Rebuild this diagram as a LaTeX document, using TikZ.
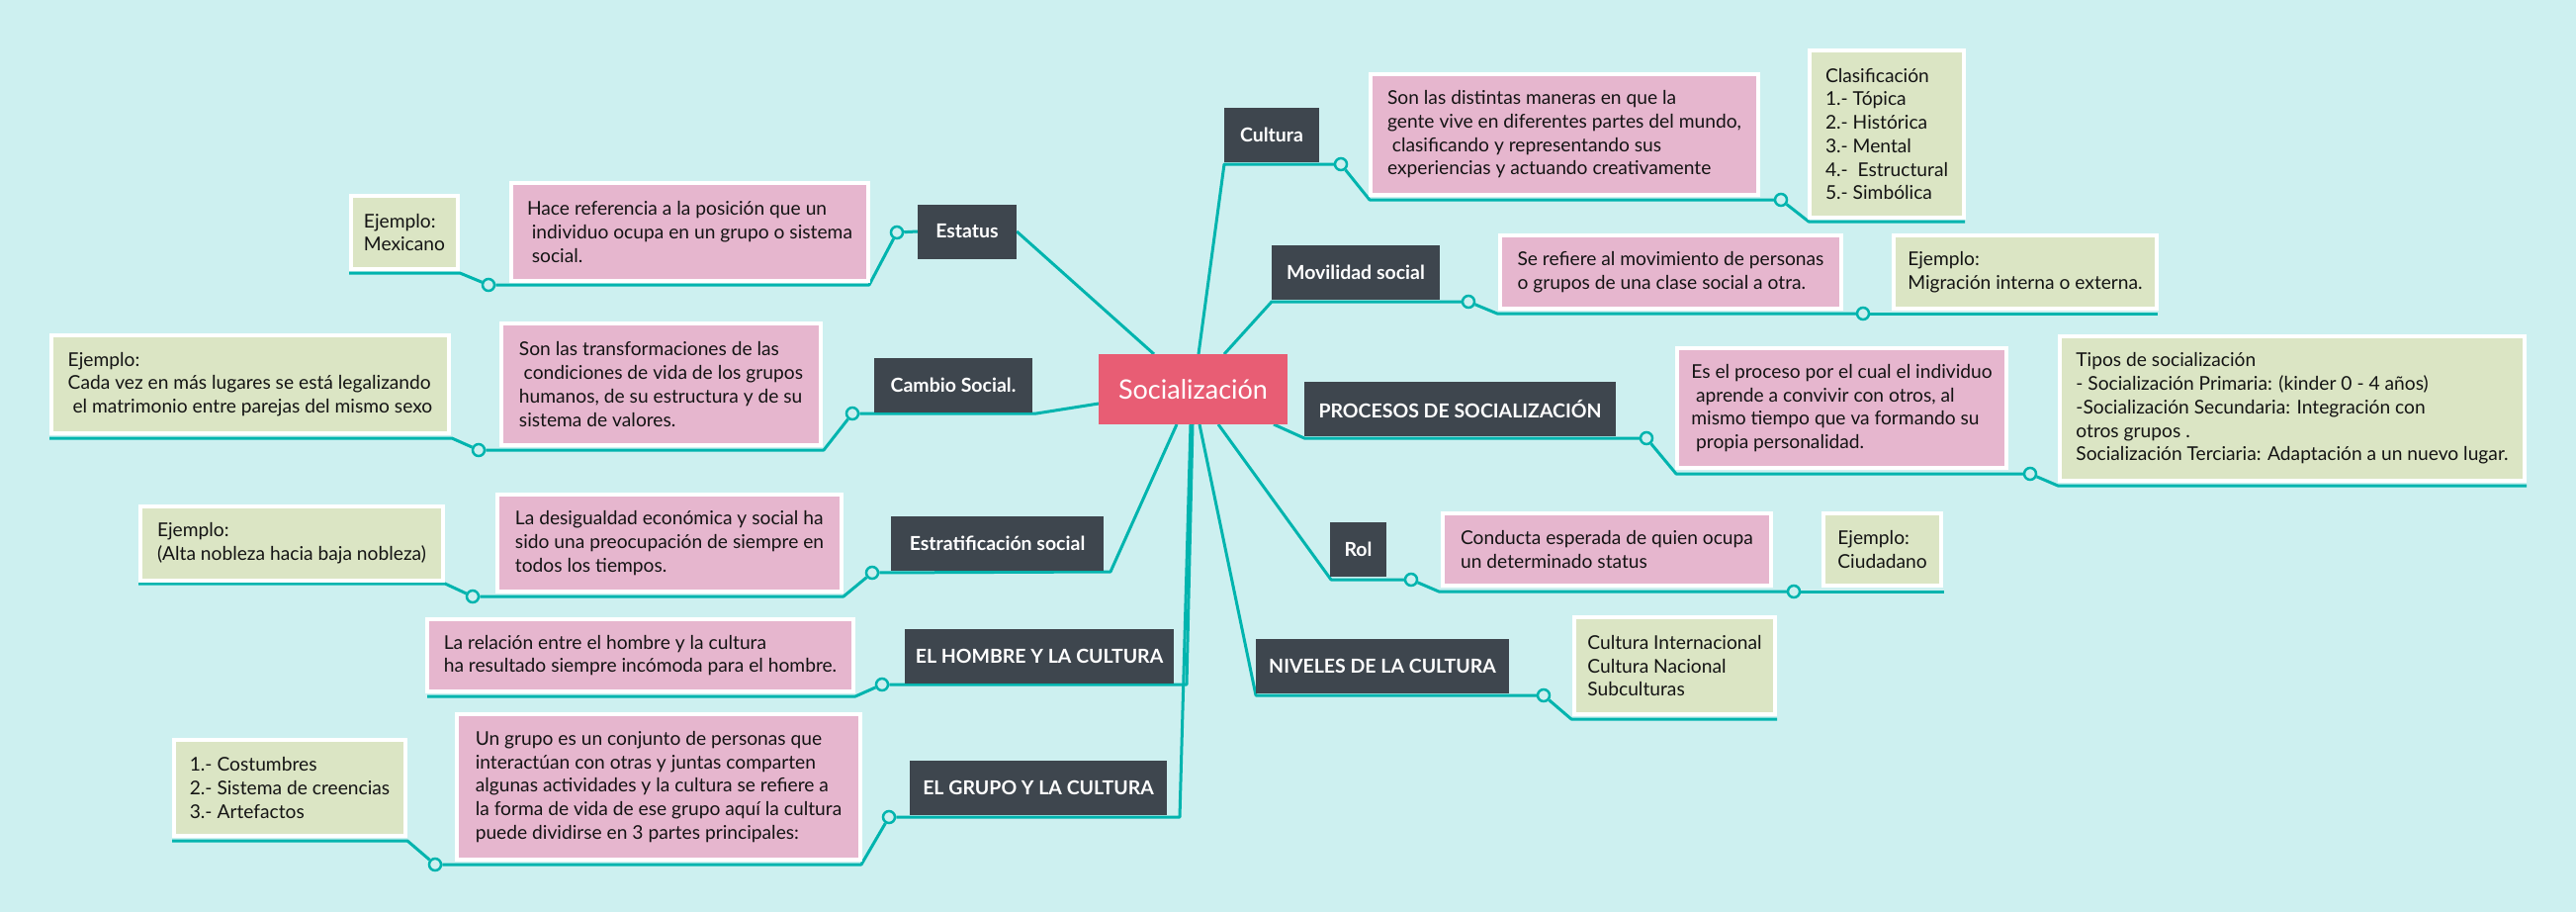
\documentclass[tikz,border=0pt]{standalone}
\usepackage{fontspec}
\setmainfont{Lato}
\usetikzlibrary{backgrounds}
\definecolor{bgc}{HTML}{CDF0F0}
\definecolor{tealc}{HTML}{00B4AE}
\definecolor{darkc}{HTML}{3E464E}
\definecolor{pinkc}{HTML}{E6B6CE}
\definecolor{greenc}{HTML}{DBE5C4}
\definecolor{redc}{HTML}{E85D74}
\definecolor{txtc}{HTML}{141414}
\newcommand{\ls}{\hspace*{0.25em}}
\begin{document}
\begin{tikzpicture}[x=1pt,y=-1pt,
  rootbox/.style={fill=redc, text=white, font=\fontsize{27}{30}\selectfont, inner sep=0pt},
  topic/.style={fill=darkc, text=white, font=\fontsize{19.5}{23}\selectfont\bfseries, minimum height=55pt, inner sep=0pt},
  pbox/.style={fill=pinkc, draw=white, line width=4pt, align=left, text=txtc, font=\fontsize{19.2}{23.7}\selectfont, inner sep=0pt},
  gbox/.style={pbox, fill=greenc},
  conn/.style={draw=tealc, line width=3pt, line join=round},
  dot/.style={circle, draw=tealc, fill=bgc, line width=2.5pt, minimum size=12pt, inner sep=0pt}]
\useasboundingbox (0,0) rectangle (2605,922);

% ---------- root ----------
\node[rootbox, minimum width=191pt, minimum height=71pt] (root) at (1206.5,393.5) {Socialización};

% ---------- main topics ----------
\node[topic, minimum width=96pt]  (cul)  at (1286,136.5)  {Cultura};
\node[topic, minimum width=170pt] (mov)  at (1371,275.5)  {Movilidad social};
\node[topic, minimum width=315pt] (pro)  at (1476.5,413.5) {PROCESOS DE SOCIALIZACIÓN};
\node[topic, minimum width=57pt]  (rol)  at (1373.5,555.5) {Rol};
\node[topic, minimum width=256pt] (niv)  at (1398,673.5)  {NIVELES DE LA CULTURA};
\node[topic, minimum width=100pt] (est)  at (978,234)     {Estatus};
\node[topic, minimum width=160pt] (cam)  at (964,389.5)   {Cambio Social.};
\node[topic, minimum width=215pt] (stra) at (1008.5,549.5) {Estratificación social};
\node[topic, minimum width=272pt] (hom)  at (1051,663.5)  {EL HOMBRE Y LA CULTURA};
\node[topic, minimum width=260pt] (gru)  at (1050,796.5)  {EL GRUPO Y LA CULTURA};

% ---------- right side details ----------
\node[pbox, minimum width=392pt, minimum height=122pt] (culP) at (1582,136) {Son las distintas maneras en que la\\gente vive en diferentes partes del mundo,\\\ls clasificando y representando sus\\experiencias y actuando creativamente};
\node[gbox, minimum width=156pt, minimum height=169pt] (culG) at (1908,135.5) {Clasificación\\1.- Tópica\\2.- Histórica\\3.- Mental\\4.-\ls\ Estructural\\5.- Simbólica};
\node[pbox, minimum width=345pt, minimum height=74pt] (movP) at (1689.5,275) {Se refiere al movimiento de personas\\o grupos de una clase social a otra.};
\node[gbox, minimum width=266pt, minimum height=74pt] (movG) at (2048,275) {Ejemplo:\\Migración interna o externa.};
\node[pbox, minimum width=333pt, minimum height=121pt] (proP) at (1862.5,412.5) {Es el proceso por el cual el individuo\\\ls aprende a convivir con otros, al\\mismo tiempo que va formando su\\\ls propia personalidad.};
\node[gbox, minimum width=470pt, minimum height=146pt] (proG) at (2318,413) {Tipos de socialización\\- Socialización Primaria: (kinder 0 - 4 años)\\-Socialización Secundaria: Integración con\\otros grupos .\\Socialización Terciaria: Adaptación a un nuevo lugar.};
\node[pbox, minimum width=332pt, minimum height=73pt] (rolP) at (1625,555.5) {Conducta esperada de quien ocupa\\un determinado status};
\node[gbox, minimum width=119pt, minimum height=73pt] (rolG) at (1903.5,555.5) {Ejemplo:\\Ciudadano};
\node[gbox, minimum width=203pt, minimum height=98pt] (nivG) at (1693.5,673) {Cultura Internacional\\Cultura Nacional\\Subculturas};

% ---------- left side details ----------
\node[pbox, minimum width=361pt, minimum height=99pt] (estP) at (697.5,234.5) {Hace referencia a la posición que un\\\ls individuo ocupa en un grupo o sistema\\\ls social.};
\node[gbox, minimum width=108pt, minimum height=74pt] (estG) at (409,235) {Ejemplo:\\Mexicano};
\node[pbox, minimum width=323pt, minimum height=123pt] (camP) at (668.5,388.5) {Son las transformaciones de las\\\ls condiciones de vida de los grupos\\humanos, de su estructura y de su\\sistema de valores.};
\node[gbox, minimum width=402pt, minimum height=99pt] (camG) at (253,388.5) {Ejemplo:\\Cada vez en más lugares se está legalizando\\\ls el matrimonio entre parejas del mismo sexo};
\node[pbox, minimum width=348pt, minimum height=98pt] (straP) at (677,549) {La desigualdad económica y social ha\\sido una preocupación de siempre en\\todos los tiempos.};
\node[gbox, minimum width=306pt, minimum height=75pt] (straG) at (295,549.5) {Ejemplo:\\(Alta nobleza hacia baja nobleza)};
\node[pbox, minimum width=431pt, minimum height=73pt] (homP) at (647.5,662.5) {La relación entre el hombre y la cultura\\ha resultado siempre incómoda para el hombre.};
\node[pbox, minimum width=408pt, minimum height=147pt] (gruP) at (666,795.5) {Un grupo es un conjunto de personas que\\interactúan con otras y juntas comparten\\algunas actividades y la cultura se refiere a\\la forma de vida de ese grupo aquí la cultura\\puede dividirse en 3 partes principales:};
\node[gbox, minimum width=234pt, minimum height=97pt] (gruG) at (293,796.5) {1.- Costumbres\\2.- Sistema de creencias\\3.- Artefactos};

% ---------- junction dots ----------
\node[dot] (dcul)  at (1356,166) {};
\node[dot] (dculP) at (1801,202) {};
\node[dot] (dmov)  at (1485,305) {};
\node[dot] (dmovP) at (1884,317) {};
\node[dot] (dpro)  at (1665,443) {};
\node[dot] (dproP) at (2053,479) {};
\node[dot] (drol)  at (1427,586) {};
\node[dot] (drolP) at (1814,598) {};
\node[dot] (dniv)  at (1561,703) {};
\node[dot] (dest)  at (907,235) {};
\node[dot] (destP) at (494,288) {};
\node[dot] (dcam)  at (862,418) {};
\node[dot] (dcamP) at (484,455) {};
\node[dot] (dstra) at (882,579) {};
\node[dot] (dstraP) at (478,603) {};
\node[dot] (dhom)  at (892,692) {};
\node[dot] (dgru)  at (899,826) {};
\node[dot] (dgruP) at (440,874) {};

% ---------- elbow coordinates ----------
\coordinate (r1) at (1212,358);  \coordinate (e1) at (1238,166);
\coordinate (e2) at (1385,202);  \coordinate (e3) at (1829,224); \coordinate (e4) at (1987,224);
\coordinate (r2) at (1238,358);  \coordinate (m1) at (1286,305);
\coordinate (m2) at (1514,317);  \coordinate (m3) at (2182,317);
\coordinate (r3) at (1288,429);  \coordinate (p1) at (1319,443);
\coordinate (p2) at (1695,479);  \coordinate (p3) at (2081,491); \coordinate (p4) at (2555,491);
\coordinate (r4) at (1232,429);  \coordinate (o1) at (1346,586);
\coordinate (o2) at (1455,598);  \coordinate (o3) at (1966,598);
\coordinate (r5) at (1213,429);  \coordinate (n1) at (1270,703);
\coordinate (n2) at (1589,727);  \coordinate (n3) at (1797,727);
\coordinate (r6) at (1167,358);
\coordinate (s1) at (879,288);   \coordinate (s2) at (465,276);  \coordinate (s3) at (353,276);
\coordinate (r7) at (1111,408);  \coordinate (c1) at (1048,418);
\coordinate (c2) at (833,455);   \coordinate (c3) at (457,443);  \coordinate (c4) at (50,443);
\coordinate (r8) at (1190,429);  \coordinate (t1) at (1123,578);
\coordinate (t2) at (853,603);   \coordinate (t3) at (450,590);  \coordinate (t4) at (140,590);
\coordinate (r9) at (1206,429);  \coordinate (h1) at (1200,692);
\coordinate (h2) at (865,704);   \coordinate (h3) at (432,704);
\coordinate (r10) at (1204,429); \coordinate (g1) at (1193,826);
\coordinate (g2) at (871,874);   \coordinate (g3) at (412,850);  \coordinate (g4) at (174,850);

\begin{scope}[on background layer]
\fill[bgc] (0,0) rectangle (2605,922);
% right
\draw[conn] (r1) -- (e1) -- (dcul);
\draw[conn] (dcul) -- (e2) -- (dculP);
\draw[conn] (dculP) -- (e3) -- (e4);
\draw[conn] (r2) -- (m1) -- (dmov);
\draw[conn] (dmov) -- (m2) -- (dmovP);
\draw[conn] (dmovP) -- (m3);
\draw[conn] (r3) -- (p1) -- (dpro);
\draw[conn] (dpro) -- (p2) -- (dproP);
\draw[conn] (dproP) -- (p3) -- (p4);
\draw[conn] (r4) -- (o1) -- (drol);
\draw[conn] (drol) -- (o2) -- (drolP);
\draw[conn] (drolP) -- (o3);
\draw[conn] (r5) -- (n1) -- (dniv);
\draw[conn] (dniv) -- (n2) -- (n3);
% left
\draw[conn] (r6) -- (est.east);
\draw[conn] (est.west) -- (dest);
\draw[conn] (dest) -- (s1) -- (destP);
\draw[conn] (destP) -- (s2) -- (s3);
\draw[conn] (r7) -- (c1) -- (dcam);
\draw[conn] (dcam) -- (c2) -- (dcamP);
\draw[conn] (dcamP) -- (c3) -- (c4);
\draw[conn] (r8) -- (t1) -- (dstra);
\draw[conn] (dstra) -- (t2) -- (dstraP);
\draw[conn] (dstraP) -- (t3) -- (t4);
\draw[conn] (r9) -- (h1) -- (dhom);
\draw[conn] (dhom) -- (h2) -- (h3);
\draw[conn] (r10) -- (g1) -- (dgru);
\draw[conn] (dgru) -- (g2) -- (dgruP);
\draw[conn] (dgruP) -- (g3) -- (g4);
\end{scope}
\end{tikzpicture}
\end{document}
